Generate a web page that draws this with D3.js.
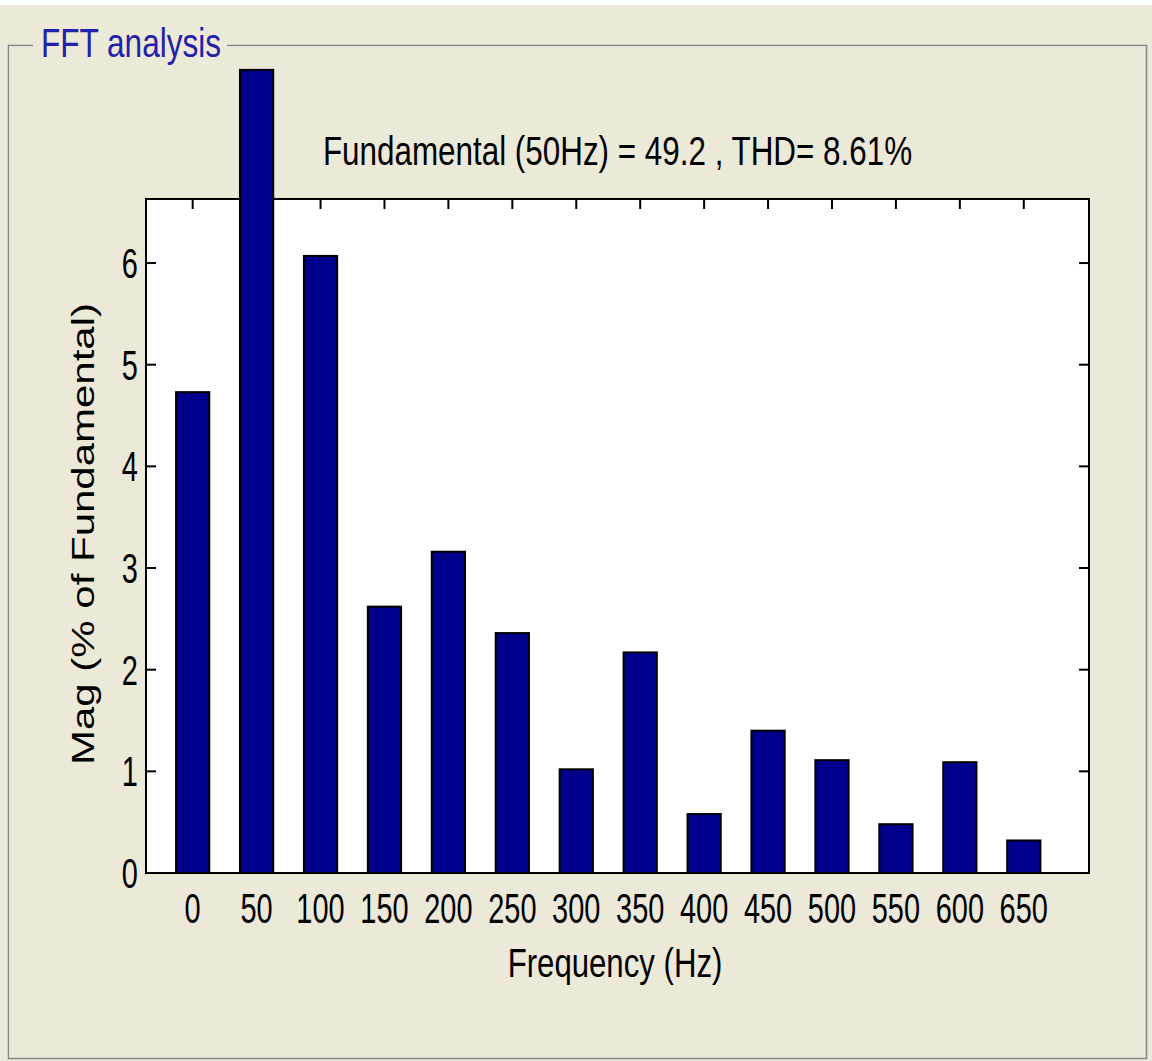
<!DOCTYPE html>
<html>
<head>
<meta charset="utf-8">
<script src="https://cdn.jsdelivr.net/npm/d3@7/dist/d3.min.js"></script>
<style>
  html, body { margin: 0; padding: 0; background: #ece9d8; }
  svg { display: block; }
  text { font-family: "Liberation Sans", Arial, sans-serif; }
</style>
</head>
<body>
<svg id="chart" width="1152" height="1061"></svg>
<script>
// ---- data ----
const frequencies = [0, 50, 100, 150, 200, 250, 300, 350, 400, 450, 500, 550, 600, 650];
const magnitudes  = [4.73, 7.9, 6.07, 2.62, 3.16, 2.36, 1.02, 2.17, 0.58, 1.40, 1.11, 0.48, 1.09, 0.32];
const yTickValues = [0, 1, 2, 3, 4, 5, 6];
const xTickLabels = ["0", "50", "100", "150", "200", "250", "300", "350", "400", "450", "500", "550", "600", "650"];
const panelTitle = "FFT analysis";
const chartTitle = "Fundamental (50Hz) = 49.2 , THD= 8.61%";
const xAxisTitle = "Frequency (Hz)";
const yAxisTitle = "Mag (% of Fundamental)";

// ---- layout ----
const W = 1152, H = 1061;
const plot = { left: 146, right: 1089, top: 199, bottom: 873 };
const svg = d3.select("#chart");

const x = d3.scaleLinear().domain([-36.5, 701]).range([plot.left, plot.right]);
const y = d3.scaleLinear().domain([0, 6.63]).range([plot.bottom, plot.top]);
const barWidthHz = 26;

// background
svg.append("rect").attr("width", W).attr("height", H).attr("fill", "#ece9d8");
svg.append("rect").attr("width", W).attr("height", 5).attr("fill", "#ffffff");

// etched panel border
svg.append("rect").attr("x", 9.5).attr("y", 46.5).attr("width", 1137).attr("height", 1012)
  .attr("fill", "none").attr("stroke", "#ffffff").attr("stroke-width", 1);
svg.append("rect").attr("x", 8.5).attr("y", 45.5).attr("width", 1138).attr("height", 1013)
  .attr("fill", "none").attr("stroke", "#848484").attr("stroke-width", 1.5);

// panel title
svg.append("rect").attr("x", 33).attr("y", 30).attr("width", 194).attr("height", 30).attr("fill", "#ece9d8");
svg.append("text")
  .attr("transform", "translate(41,57) scale(0.77,1)")
  .attr("font-size", 41).attr("fill", "#2222a8")
  .text(panelTitle);

// axes background
svg.append("rect")
  .attr("x", plot.left).attr("y", plot.top)
  .attr("width", plot.right - plot.left).attr("height", plot.bottom - plot.top)
  .attr("fill", "#ffffff");

// ticks (inward, all four sides)
const tickLen = 10;
const tg = svg.append("g").attr("stroke", "#000").attr("stroke-width", 2);
frequencies.forEach(f => {
  tg.append("line").attr("x1", x(f)).attr("x2", x(f)).attr("y1", plot.top).attr("y2", plot.top + tickLen);
  tg.append("line").attr("x1", x(f)).attr("x2", x(f)).attr("y1", plot.bottom).attr("y2", plot.bottom - tickLen);
});
yTickValues.forEach(v => {
  tg.append("line").attr("x1", plot.left).attr("x2", plot.left + tickLen).attr("y1", y(v)).attr("y2", y(v));
  tg.append("line").attr("x1", plot.right).attr("x2", plot.right - tickLen).attr("y1", y(v)).attr("y2", y(v));
});

// axes box
svg.append("rect")
  .attr("x", plot.left).attr("y", plot.top)
  .attr("width", plot.right - plot.left).attr("height", plot.bottom - plot.top)
  .attr("fill", "none").attr("stroke", "#000").attr("stroke-width", 2);

// bars
svg.append("g").selectAll("rect")
  .data(frequencies.map((f, i) => ({ f, v: magnitudes[i] })))
  .join("rect")
  .attr("x", d => x(d.f - barWidthHz / 2))
  .attr("width", d => x(d.f + barWidthHz / 2) - x(d.f - barWidthHz / 2))
  .attr("y", d => y(d.v))
  .attr("height", d => y(0) - y(d.v))
  .attr("fill", "#00008c")
  .attr("stroke", "#000")
  .attr("stroke-width", 2);

// x tick labels
svg.append("g").selectAll("text")
  .data(frequencies)
  .join("text")
  .attr("transform", (d) => `translate(${x(d)},923) scale(0.69,1)`)
  .attr("text-anchor", "middle")
  .attr("font-size", 42)
  .attr("fill", "#000")
  .text((d, i) => xTickLabels[i]);

// y tick labels
svg.append("g").selectAll("text")
  .data(yTickValues)
  .join("text")
  .attr("transform", d => `translate(138,${y(d) + 15}) scale(0.69,1)`)
  .attr("text-anchor", "end")
  .attr("font-size", 42)
  .attr("fill", "#000")
  .text(d => d);

// chart title
svg.append("text")
  .attr("transform", `translate(${(plot.left + plot.right) / 2},165) scale(0.766,1)`)
  .attr("text-anchor", "middle")
  .attr("font-size", 41).attr("fill", "#000")
  .text(chartTitle);

// x axis title
svg.append("text")
  .attr("transform", `translate(615,977) scale(0.76,1)`)
  .attr("text-anchor", "middle")
  .attr("font-size", 41).attr("fill", "#000")
  .text(xAxisTitle);

// y axis title
svg.append("text")
  .attr("transform", `translate(94,534) scale(0.75,1) rotate(-90)`)
  .attr("text-anchor", "middle")
  .attr("font-size", 42).attr("fill", "#000")
  .text(yAxisTitle);
</script>
</body>
</html>
